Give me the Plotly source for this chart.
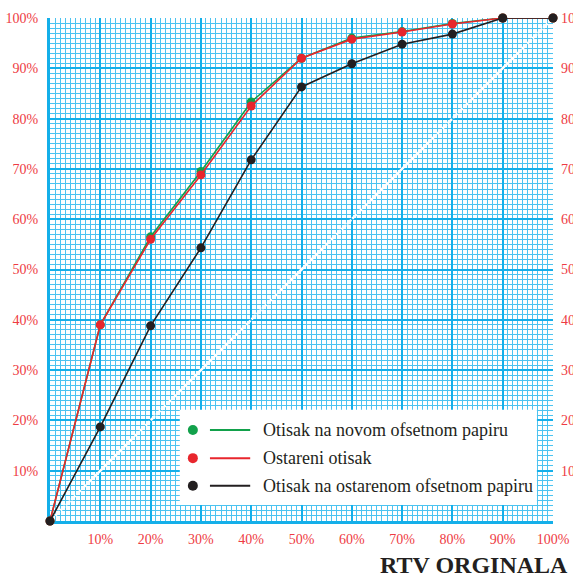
import plotly.graph_objects as go

# x positions (%), shared by all three curves
x_pct = [0, 10, 20, 30, 40, 50, 60, 70, 80, 90, 100]

novi = [0, 39, 56.5, 69.5, 83.3, 92, 96, 97.3, 98.9, 100, 100]
ostareni = [0, 39, 56, 68.8, 82.5, 92, 95.8, 97.2, 98.8, 100, 100]
ostareni_papir = [0, 18.7, 38.8, 54.3, 71.8, 86.3, 90.9, 94.8, 96.8, 100, 100]

diag = [0, 100]

tick_vals = [10, 20, 30, 40, 50, 60, 70, 80, 90, 100]
tick_text = [f"{v}%" for v in tick_vals]

names = ["Otisak na novom ofsetnom papiru", "Ostareni otisak",
         "Otisak na ostarenom ofsetnom papiru"]
colors = ["#12a14b", "#e8262d", "#231f20"]

CYAN = "#14afe9"
RED_TXT = "#ee3b43"
SERIF = "Liberation Serif, Times New Roman, serif"

fig = go.Figure()

# white dotted diagonal
fig.add_trace(go.Scatter(x=diag, y=diag, mode="lines",
                         line=dict(color="white", width=2.5, dash="6px,1.5px"),
                         hoverinfo="skip", showlegend=False))

for ys, c, n in zip([novi, ostareni, ostareni_papir], colors, names):
    fig.add_trace(go.Scatter(x=x_pct, y=ys, mode="lines+markers", name=n,
                             line=dict(color=c, width=1.6),
                             marker=dict(color=c, size=9),
                             showlegend=False, cliponaxis=False))

# invisible trace to drive the right-hand axis
fig.add_trace(go.Scatter(x=[0], y=[0], yaxis="y2", mode="markers",
                         marker=dict(opacity=0), showlegend=False,
                         hoverinfo="skip"))

axis_common = dict(range=[0, 100], showgrid=True, gridcolor=CYAN, gridwidth=2.4,
                   dtick=10, tick0=0, zeroline=False, showline=True,
                   linecolor=CYAN, linewidth=3, ticks="", automargin=False,
                   layer="below traces",
                   tickfont=dict(family=SERIF, size=14, color=RED_TXT),
                   minor=dict(dtick=1, showgrid=True, gridcolor="#4cc3f0",
                              gridwidth=1.2))

fig.update_layout(
    width=573, height=578,
    margin=dict(l=50, r=20, t=18, b=57),
    paper_bgcolor="white", plot_bgcolor="white",
    showlegend=False,
    xaxis=dict(**axis_common, tickmode="array", tickvals=tick_vals,
               ticktext=tick_text, ticklabelstandoff=3),
    yaxis=dict(**axis_common, tickmode="array", tickvals=tick_vals,
               ticktext=tick_text, ticklabelstandoff=6),
    yaxis2=dict(range=[0, 100], overlaying="y", side="right", showgrid=False,
                zeroline=False, tickmode="array", tickvals=tick_vals,
                ticktext=tick_text, ticks="", ticklabelstandoff=7,
                automargin=False,
                tickfont=dict(family=SERIF, size=14, color=RED_TXT)),
)

# legend box, drawn by hand so the dot sits before the line like the original
fig.add_shape(type="rect", xref="paper", yref="paper",
              x0=0.258, x1=0.968, y0=0.032, y1=0.221,
              fillcolor="white", line=dict(width=0), layer="above")

row_y = [0.181, 0.125, 0.070]
for ry, c, n in zip(row_y, colors, names):
    fig.add_shape(type="circle", xref="paper", yref="paper",
                  xsizemode="pixel", ysizemode="pixel",
                  xanchor=0.284, yanchor=ry, x0=-5, x1=5, y0=-5, y1=5,
                  fillcolor=c, line=dict(width=0), layer="above")
    fig.add_shape(type="line", xref="paper", yref="paper",
                  x0=0.318, x1=0.398, y0=ry, y1=ry,
                  line=dict(color=c, width=2), layer="above")
    fig.add_annotation(text=n, xref="paper", yref="paper", x=0.419, y=ry,
                       xanchor="left", yanchor="middle", showarrow=False,
                       font=dict(family=SERIF, size=18, color="#231f20"))

fig.add_annotation(text="<b>RTV ORGINALA</b>", xref="paper", yref="paper",
                   x=1.033, y=-0.088, xanchor="right", yanchor="middle",
                   showarrow=False,
                   font=dict(family=SERIF, size=24, color="#231f20"))

# drop the browser's default 8px body margin so the figure sits at 0,0
fig.write_html("out.html", config={"displayModeBar": False},
               post_script="document.body.style.margin='0';")
